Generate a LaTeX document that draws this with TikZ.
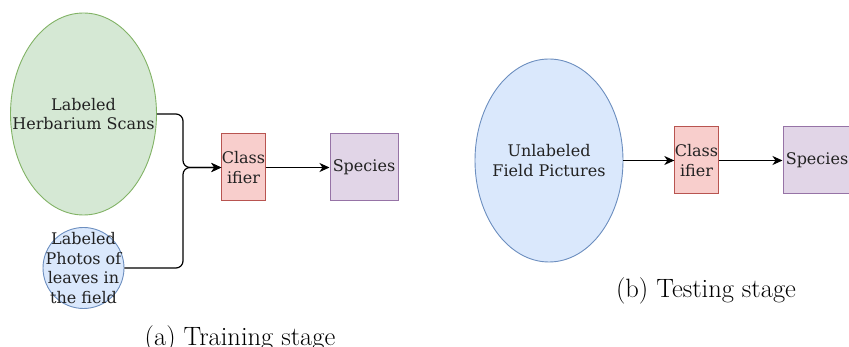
\documentclass[tikz,border=0pt]{standalone}
\usepackage{fontspec}
\newfontfamily\boxfont{DejaVu Serif}
\usetikzlibrary{arrows.meta,shapes.geometric}

\definecolor{greenFill}{HTML}{D5E8D4}
\definecolor{greenLine}{HTML}{82B366}
\definecolor{blueFill}{HTML}{DAE8FC}
\definecolor{blueLine}{HTML}{6C8EBF}
\definecolor{redFill}{HTML}{F8CECC}
\definecolor{redLine}{HTML}{B85450}
\definecolor{purpleFill}{HTML}{E1D5E7}
\definecolor{purpleLine}{HTML}{9673A6}
\definecolor{inkGrey}{HTML}{222222}

\tikzset{
  boxtext/.style={font=\boxfont\fontsize{16}{19.5}\selectfont, text=inkGrey, align=center, inner sep=0pt},
  % the ellipse itself carries no text, so its size stays as given
  dataset/.style={ellipse, inner sep=0pt, line width=0.9pt},
  greenset/.style={dataset, draw=greenLine, fill=greenFill},
  blueset/.style={dataset, draw=blueLine, fill=blueFill},
  clsbox/.style={boxtext, rectangle, draw=redLine, fill=redFill, line width=1pt,
    minimum width=41pt, minimum height=67pt},
  spbox/.style={boxtext, rectangle, draw=purpleLine, fill=purpleFill, line width=1pt,
    minimum width=68pt, minimum height=67pt},
  flow/.style={draw=black, line width=1.2pt, -{Stealth[length=10pt,width=9pt,inset=3pt]}},
  caption/.style={font=\fontsize{26.5}{30}\selectfont, anchor=base, inner sep=0pt}
}

\begin{document}
\begin{tikzpicture}[x=1pt,y=-1pt]
\useasboundingbox (0,0) rectangle (849,347);

% (a) training stage
\node[greenset, minimum width=146pt, minimum height=202pt,
  label={[boxtext]center:Labeled\\Herbarium Scans}] (herb) at (83.5,114) {};
\node[blueset, minimum width=81pt, minimum height=81pt,
  label={[boxtext]center:Labeled\\Photos of\\leaves in\\the field}] (photos) at (83.5,268) {};
\node[clsbox] (clsA) at (243.5,167.5) {Class\\ifier};
\node[spbox] (spA) at (364,167.5) {Species};
\coordinate (join) at (183,167.5);

\draw[flow, rounded corners=7pt] (herb.east) -- (herb.east -| join) -- (join) -- (clsA.west);
\draw[flow, rounded corners=7pt] (photos.east) -- (photos.east -| join) -- (join) -- (clsA.west);
\draw[flow] (clsA.east) -- (spA.west);

\node[caption] (capA) at (240,346) {(a) Training stage};

% (b) testing stage
\node[blueset, minimum width=148pt, minimum height=203pt,
  label={[boxtext]center:Unlabeled\\Field Pictures}] (field) at (549,160.5) {};
\node[clsbox] (clsB) at (696.5,160.5) {Class\\ifier};
\node[spbox] (spB) at (817,160.5) {Species};

\draw[flow] (field.east) -- (clsB.west);
\draw[flow] (clsB.east) -- (spB.west);

\node[caption] (capB) at (706,298) {(b) Testing stage};
\end{tikzpicture}
\end{document}
